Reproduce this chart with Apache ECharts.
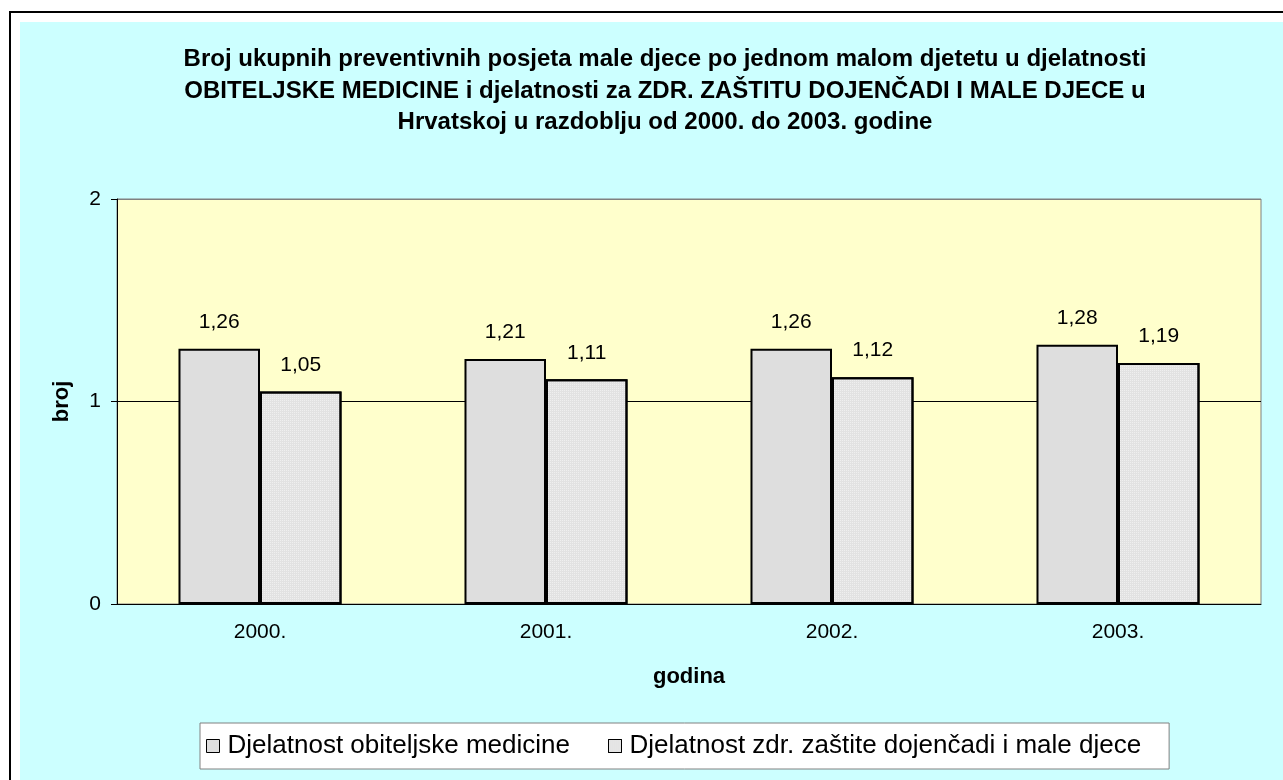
<!DOCTYPE html>
<html lang="hr">
<head>
    <meta charset="UTF-8">
    <title>broj posjeta</title>
    <script src="https://cdn.jsdelivr.net/npm/echarts@6/dist/echarts.min.js"></script>
    <style>
        html, body { margin: 0; padding: 0; background: #fff; }
        #chart { width: 1283px; height: 780px; }
    </style>
</head>
<body>
    <div id="chart"></div>
    <script>
        // podaci
        var godine = ['2000.', '2001.', '2002.', '2003.'];
        var obiteljska = [1.26, 1.21, 1.26, 1.28];
        var dojencad = [1.05, 1.11, 1.12, 1.19];
        var nazivi = ['Djelatnost obiteljske medicine', 'Djelatnost zdr. zaštite dojenčadi i male djece'];

        var font = 'Liberation Sans, Arial, sans-serif';

        function zarez(p) {
            return p.value.toFixed(2).replace('.', ',');
        }

        var chart = echarts.init(document.getElementById('chart'));

        var option = {
            animation: false,
            textStyle: { fontFamily: font },
            graphic: [
                {
                    type: 'rect', z: -10, silent: true,
                    shape: { x: 10, y: 12, width: 1400, height: 900 },
                    style: { fill: '#fff', stroke: '#000', lineWidth: 2 }
                },
                {
                    type: 'rect', z: -9, silent: true,
                    shape: { x: 20, y: 22, width: 1400, height: 900 },
                    style: { fill: '#CCFFFF' }
                },
                {
                    type: 'text', silent: true,
                    x: 665, y: 44,
                    style: {
                        text: 'Broj ukupnih preventivnih posjeta male djece po jednom malom djetetu u djelatnosti\nOBITELJSKE MEDICINE i djelatnosti za ZDR. ZAŠTITU DOJENČADI I MALE DJECE u\nHrvatskoj u razdoblju od 2000. do 2003. godine',
                        align: 'center',
                        font: 'bold 24px ' + font,
                        lineHeight: 31.5,
                        fill: '#000'
                    }
                }
            ],
            legend: {
                data: nazivi,
                left: 200,
                top: 723,
                icon: 'rect',
                backgroundColor: '#fff',
                borderColor: '#808080',
                borderWidth: 1,
                padding: [10, 28, 10, 6],
                itemWidth: 13,
                itemHeight: 13,
                itemGap: 38,
                itemStyle: { borderWidth: 1, borderColor: '#000' },
                textStyle: { fontSize: 26, color: '#000', fontFamily: font, padding: [0, 0, 0, 3] }
            },
            grid: {
                left: 117, top: 199, right: 22, bottom: 176,
                show: true,
                backgroundColor: '#FFFFCC',
                borderColor: '#808080',
                borderWidth: 1
            },
            xAxis: {
                type: 'category',
                data: godine,
                name: 'godina',
                nameLocation: 'middle',
                nameGap: 62,
                nameTextStyle: { fontSize: 22, fontWeight: 'bold', color: '#000' },
                axisLine: { lineStyle: { color: '#000' } },
                axisTick: { length: 6, lineStyle: { color: '#000' } },
                axisLabel: { fontSize: 21, color: '#000', margin: 18 }
            },
            yAxis: {
                type: 'value',
                min: 0, max: 2, interval: 1,
                name: 'broj',
                nameLocation: 'middle',
                nameGap: 44,
                nameRotate: 90,
                nameTextStyle: { fontSize: 22, fontWeight: 'bold', color: '#000' },
                axisLine: { show: true, lineStyle: { color: '#000' } },
                axisTick: { show: true, length: 6, lineStyle: { color: '#000' } },
                axisLabel: { fontSize: 21, color: '#000', margin: 16 },
                splitLine: { lineStyle: { color: ['#000', '#000', '#808080'], width: 1 } }
            },
            series: [
                {
                    name: nazivi[0],
                    type: 'bar',
                    data: obiteljska,
                    barGap: '0%',
                    barCategoryGap: '43%',
                    itemStyle: { color: '#DEDEDE', borderColor: '#000', borderWidth: 2 },
                    label: { show: true, position: 'top', distance: 16, fontSize: 21, color: '#000', formatter: zarez }
                },
                {
                    name: nazivi[1],
                    type: 'bar',
                    data: dojencad,
                    itemStyle: {
                        color: '#E2E2E2', borderColor: '#000', borderWidth: 2,
                        decal: {
                            symbol: 'rect', symbolSize: 1,
                            dashArrayX: [1, 1], dashArrayY: [1, 1],
                            color: 'rgba(255,255,255,0.45)'
                        }
                    },
                    label: { show: true, position: 'top', distance: 16, fontSize: 21, color: '#000', formatter: zarez }
                }
            ]
        };

        chart.setOption(option);
    </script>
</body>
</html>
